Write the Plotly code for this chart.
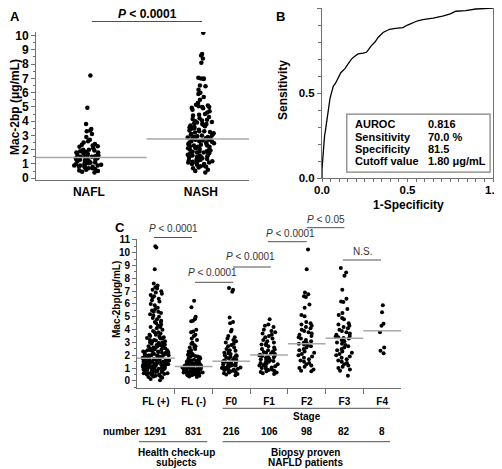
import plotly.graph_objects as go

# page body has an 8px margin: the figure is sized to fill the rest of the window
PAGE_W, PAGE_H, OFF = 502, 469, 8
W, H = PAGE_W - OFF, PAGE_H - OFF
FONT = "Liberation Sans, Arial, sans-serif"

# ---------------- Panel A data ----------------
a_groups = ["NAFL", "NASH"]
a_nafl = [7.2, 4.95, 3.8, 3.45, 3.35, 3.3, 3.1, 2.9, 2.7, 2.6, 2.5, 2.4, 2.35, 2.3, 2.25,
          2.2, 2.1, 2.0, 2.0, 1.95, 1.9, 1.85, 1.8, 1.8, 1.8, 1.75, 1.7, 1.7, 1.65, 1.6,
          1.6, 1.55, 1.5, 1.5, 1.5, 1.45, 1.4, 1.4, 1.35, 1.3, 1.3, 1.3, 1.25, 1.2, 1.2,
          1.15, 1.1, 1.1, 1.05, 1.0, 1.0, 1.0, 0.95, 0.9, 0.9, 0.9, 0.85, 0.8, 0.8, 0.75,
          0.7, 0.7, 0.65, 0.6, 0.55, 0.5, 0.45, 0.4]
a_nash = [10.2, 8.7, 8.6, 8.4, 8.1, 7.05, 7.0, 7.0, 6.95, 6.5, 6.45, 6.2, 6.0,
          5.9, 5.7, 5.5, 5.3, 5.15, 5.1, 5.05, 5.0, 5.0,
          4.95, 4.9, 4.8, 4.7, 4.6, 4.5, 4.45, 4.4, 4.3, 4.2, 4.15, 4.1, 4.05, 4.0,
          3.95, 3.9, 3.85, 3.8, 3.8, 3.75, 3.7, 3.65, 3.6, 3.55, 3.5, 3.5, 3.45, 3.4,
          3.35, 3.3, 3.3, 3.25, 3.2, 3.15, 3.1, 3.1, 3.05, 3.0, 3.0,
          2.95, 2.9, 2.9, 2.85, 2.8, 2.8, 2.75,
          2.7, 2.7, 2.65, 2.6, 2.6, 2.55, 2.5, 2.5, 2.45, 2.4, 2.4, 2.35, 2.3, 2.3,
          2.25, 2.2, 2.2, 2.15, 2.1, 2.1, 2.05, 2.0, 2.0,
          1.95, 1.9, 1.9, 1.85, 1.8, 1.8, 1.75, 1.7, 1.7, 1.65, 1.6, 1.6, 1.55, 1.5,
          1.5, 1.45, 1.4, 1.4, 1.35, 1.3, 1.3, 1.25, 1.2, 1.2, 1.15, 1.1, 1.1, 1.05,
          1.0, 1.0, 0.95, 0.9, 0.85, 0.8, 0.75, 0.7, 0.6, 0.5, 0.4]
a_medians = [1.45, 2.75]
a_pvalue = "<i>P</i> < 0.0001"

# ---------------- Panel B data ----------------
roc_fpr = [0.0, 0.0, 0.005, 0.01, 0.015, 0.02, 0.03, 0.037, 0.047, 0.055, 0.066, 0.08,
           0.095, 0.11, 0.134, 0.15, 0.172, 0.19, 0.211, 0.24, 0.26, 0.275, 0.289, 0.31,
           0.328, 0.357, 0.395, 0.43, 0.473, 0.5, 0.531, 0.56, 0.589, 0.65, 0.705, 0.75,
           0.783, 0.84, 0.899, 0.95, 1.0]
roc_tpr = [0.0, 0.05, 0.12, 0.2, 0.25, 0.28, 0.36, 0.41, 0.47, 0.5, 0.54, 0.56,
           0.586, 0.62, 0.644, 0.67, 0.70, 0.715, 0.73, 0.735, 0.74, 0.76, 0.779, 0.80,
           0.827, 0.856, 0.875, 0.88, 0.885, 0.9, 0.913, 0.925, 0.932, 0.94, 0.952, 0.965,
           0.981, 0.985, 0.994, 0.997, 1.0]
roc_stat_names = ["AUROC", "Sensitivity", "Specificity", "Cutoff value"]
roc_stat_values = ["0.816", "70.0 %", "81.5", "1.80 μg/mL"]

# ---------------- Panel C data ----------------
c_groups = ["FL (+)", "FL (-)", "F0", "F1", "F2", "F3", "F4"]
c_numbers = ["1291", "831", "216", "106", "98", "82", "8"]
c_fl_pos = [10.5, 10.4, 8.7, 7.6, 7.45, 7.3, 7.2, 7.1, 7.0, 6.9, 6.8, 6.7, 6.6, 6.5, 6.3,
            6.2, 6.0, 5.9, 5.7, 5.6, 5.5, 5.4, 5.3, 5.2, 5.1, 5.0, 4.9, 4.8, 4.7, 4.6, 4.5,
            4.4, 4.3, 4.2, 4.1, 4.0, 3.9, 3.8, 3.7, 3.6, 3.5, 3.5, 3.4, 3.35, 3.3, 3.2,
            3.15, 3.1, 3.0, 3.0, 2.9, 2.85, 2.8, 2.75, 2.7, 2.65, 2.6, 2.55, 2.5, 2.5,
            2.45, 2.4, 2.4, 2.35, 2.3, 2.3, 2.25, 2.2, 2.2, 2.15, 2.1, 2.1, 2.05, 2.0,
            2.0, 2.0, 1.95, 1.9, 1.9, 1.85, 1.8, 1.8, 1.8, 1.75, 1.7, 1.7, 1.7, 1.65,
            1.6, 1.6, 1.6, 1.55, 1.5, 1.5, 1.5, 1.45, 1.4, 1.4, 1.4, 1.35, 1.3, 1.3, 1.3,
            1.25, 1.2, 1.2, 1.2, 1.15, 1.1, 1.1, 1.1, 1.05, 1.0, 1.0, 1.0, 0.95, 0.9, 0.9,
            0.9, 0.85, 0.8, 0.8, 0.8, 0.75, 0.7, 0.7, 0.65, 0.6, 0.6, 0.55, 0.5, 0.5,
            0.45, 0.4, 0.35, 0.3, 0.25, 0.15, 0.05,
            2.9, 2.7, 2.5, 2.3, 2.1, 1.9, 1.7, 1.5, 1.3, 1.1, 0.9, 0.7, 2.8, 2.6, 2.4,
            2.2, 2.0, 1.8, 1.6, 1.4, 1.2, 1.0, 0.8, 0.6, 3.6, 3.4, 3.2, 3.8, 4.2, 4.6,
            5.4, 6.4, 1.55, 1.35, 1.15, 0.95, 0.75, 3.3, 3.1, 2.95, 2.65, 2.45, 2.25,
            2.05, 1.85, 1.65, 1.45, 1.25, 1.05, 0.85, 0.65, 0.55, 0.45, 0.35]
c_fl_neg = [6.25, 5.75, 5.0, 4.9, 4.8, 4.7, 4.65, 4.0, 3.85, 3.8, 3.6, 3.5, 3.3, 3.2,
            3.0, 2.9, 2.8, 2.7, 2.6, 2.5, 2.4, 2.3, 2.25, 2.2, 2.1, 2.05, 2.0, 1.95, 1.9,
            1.85, 1.8, 1.75, 1.7, 1.65, 1.6, 1.55, 1.5, 1.5, 1.45, 1.4, 1.4, 1.35, 1.3,
            1.3, 1.25, 1.2, 1.2, 1.15, 1.15, 1.1, 1.1, 1.1, 1.05, 1.05, 1.05, 1.0, 1.0,
            1.0, 1.0, 0.95, 0.95, 0.95, 0.9, 0.9, 0.9, 0.9, 0.85, 0.85, 0.85, 0.8, 0.8,
            0.8, 0.8, 0.75, 0.75, 0.75, 0.7, 0.7, 0.7, 0.65, 0.65, 0.65, 0.6, 0.6, 0.6,
            0.55, 0.55, 0.5, 0.5, 0.5, 0.45, 0.45, 0.4, 0.35, 0.3,
            2.6, 2.2, 1.9, 1.7, 1.6, 1.45, 1.35, 1.25, 1.15, 1.05, 0.95, 0.85]
c_f0 = [7.25, 7.1, 6.95, 4.95, 4.6, 4.5, 4.0, 3.85, 3.5, 3.4, 3.3, 3.2, 3.1, 3.0, 2.9,
        2.8, 2.7, 2.6, 2.5, 2.4, 2.35, 2.3, 2.2, 2.15, 2.1, 2.0, 2.0, 1.95, 1.9, 1.85,
        1.8, 1.75, 1.7, 1.65, 1.6, 1.55, 1.5, 1.5, 1.45, 1.4, 1.4, 1.35, 1.3, 1.3, 1.25,
        1.2, 1.2, 1.15, 1.1, 1.1, 1.05, 1.0, 1.0, 0.95, 0.9, 0.9, 0.85, 0.8, 0.8, 0.75,
        0.7, 0.65, 0.6, 0.55, 0.5, 0.45]
c_f1 = [4.8, 4.4, 4.3, 4.2, 4.0, 3.9, 3.8, 3.7, 3.6, 3.5, 3.4, 3.3, 3.2, 3.1, 3.0, 2.9,
        2.85, 2.8, 2.7, 2.6, 2.5, 2.45, 2.4, 2.3, 2.25, 2.2, 2.15, 2.1, 2.05, 2.0, 2.0,
        1.95, 1.9, 1.85, 1.8, 1.75, 1.7, 1.65, 1.6, 1.55, 1.5, 1.45, 1.4, 1.35, 1.3,
        1.25, 1.2, 1.15, 1.1, 1.05, 1.0, 0.95, 0.9, 0.85, 0.8, 0.75, 0.7, 0.65, 0.6, 0.55]
c_f2 = [10.25, 8.7, 6.9, 6.75, 6.6, 6.55, 5.95, 5.7, 5.15, 5.05, 4.6, 4.5, 4.4, 4.3,
        4.2, 4.1, 4.0, 3.9, 3.8, 3.7, 3.6, 3.5, 3.4, 3.3, 3.2, 3.1, 3.0, 2.95, 2.9,
        2.85, 2.8, 2.7, 2.6, 2.5, 2.4, 2.3, 2.2, 2.1, 2.0, 1.9, 1.8, 1.7, 1.6, 1.5,
        1.4, 1.3, 1.2, 1.1, 1.0, 0.9, 0.8, 0.75]
c_f3 = [8.8, 8.45, 8.2, 7.1, 6.4, 6.2, 6.15, 5.6, 5.3, 5.15, 4.9, 4.8, 4.5, 4.4, 4.3,
        4.2, 4.1, 4.0, 3.9, 3.8, 3.7, 3.6, 3.5, 3.45, 3.4, 3.35, 3.3, 3.2, 3.1, 3.0,
        2.9, 2.8, 2.7, 2.6, 2.5, 2.4, 2.3, 2.2, 2.1, 2.0, 1.9, 1.8, 1.7, 1.6, 1.5, 1.4,
        1.3, 1.2, 1.1, 1.0, 0.9, 0.8, 0.4]
c_f4 = [5.9, 5.35, 4.45, 4.3, 3.8, 2.6, 2.35, 2.15]
c_medians = [1.77, 1.12, 1.53, 2.03, 2.9, 3.33, 3.92]
c_comparisons = ["<i>P</i> < 0.0001", "<i>P</i> < 0.0001", "<i>P</i> < 0.0001",
                 "<i>P</i> < 0.0001", "<i>P</i> < 0.05", "N.S."]


# ---------------- helpers (window pixel -> paper fraction) ----------------
def px(x):
    return (x - OFF) / W


def py(y):
    return 1 - (y - OFF) / H


def dom(a, b):
    return [max(0.0, min(1.0, a)), max(0.0, min(1.0, b))]


BLACK = "#000000"
AXC = "#707070"
MEDC = "#a8a8a8"

fig = go.Figure()

# ---- Panel A ----
a_xr = [-0.473, 1.43]
a_widths = [0.27, 0.25]
for i, vals in enumerate([a_nafl, a_nash]):
    fig.add_trace(go.Box(
        x=[i] * len(vals), y=vals, xaxis="x", yaxis="y",
        boxpoints="all", jitter=1, pointpos=0, width=a_widths[i],
        fillcolor="rgba(0,0,0,0)", line=dict(width=0, color="rgba(0,0,0,0)"),
        marker=dict(color=BLACK, size=4.5, line=dict(width=0)),
        showlegend=False, hoverinfo="y"))
a_bounds = [a_xr[0], 0.515, a_xr[1]]
for i, m in enumerate(a_medians):
    fig.add_trace(go.Scatter(x=[a_bounds[i], a_bounds[i + 1]], y=[m, m], mode="lines",
                             xaxis="x", yaxis="y", line=dict(color=MEDC, width=1.5),
                             showlegend=False, hoverinfo="skip"))

# ---- Panel B ----
fig.add_trace(go.Scatter(x=roc_fpr, y=roc_tpr, xaxis="x2", yaxis="y2", mode="lines",
                         line=dict(color=BLACK, width=1.3), showlegend=False))

# ---- Panel C ----
c_sets = [c_fl_pos, c_fl_neg, c_f0, c_f1, c_f2, c_f3, c_f4]
c_widths = [0.7, 0.6, 0.55, 0.55, 0.5, 0.5, 0.15]
for i, vals in enumerate(c_sets):
    fig.add_trace(go.Box(
        x=[i] * len(vals), y=vals, xaxis="x3", yaxis="y3",
        boxpoints="all", jitter=1, pointpos=0, width=c_widths[i],
        fillcolor="rgba(0,0,0,0)", line=dict(width=0, color="rgba(0,0,0,0)"),
        marker=dict(color=BLACK, size=4, line=dict(width=0)),
        showlegend=False, hoverinfo="y"))
for i, m in enumerate(c_medians):
    fig.add_trace(go.Scatter(x=[i - 0.5, i + 0.5], y=[m, m], mode="lines",
                             xaxis="x3", yaxis="y3", line=dict(color=MEDC, width=1.5),
                             showlegend=False, hoverinfo="skip"))

bold12 = dict(family=FONT, size=12, color=BLACK, weight="bold")
boldB = dict(family=FONT, size=11.5, color=BLACK, weight="bold")
bold10 = dict(family=FONT, size=10, color=BLACK, weight="bold")

common = dict(showgrid=False, zeroline=False, automargin=False, showline=True,
              linecolor=AXC, linewidth=1)

fig.update_layout(
    template="none",
    width=W, height=H, autosize=False,
    margin=dict(l=0, r=0, t=0, b=0, pad=0),
    paper_bgcolor="white", plot_bgcolor="white",
    font=dict(family=FONT, color=BLACK),
    boxmode="overlay",
    xaxis=dict(domain=dom(px(36), px(249)), range=a_xr, anchor="y",
               tickvals=[0, 1], ticktext=a_groups, ticks="", tickfont=bold12, **common),
    yaxis=dict(domain=dom(py(180.4), py(32)), range=[-0.15, 10.25], anchor="x",
               tick0=0, dtick=1, ticks="outside", ticklen=4, tickcolor=AXC, tickwidth=1,
               minor=dict(ticks="outside", dtick=0.5, tick0=0, ticklen=2, tickcolor=AXC),
               tickfont=bold12, **common),
    xaxis2=dict(domain=dom(px(322), px(493)), range=[0, 1], anchor="y2",
                tickvals=[0, 0.5, 1], ticktext=["0.0", "0.5", "1.0"],
                ticks="outside", ticklen=3, tickcolor=AXC, ticklabelstandoff=-2,
                minor=dict(ticks="outside", dtick=0.05, tick0=0, ticklen=3, tickcolor=AXC),
                tickfont=boldB, mirror=True, **common),
    yaxis2=dict(domain=dom(py(178.3), py(6)), range=[0, 1], anchor="x2",
                tickvals=[0, 0.5, 1], ticktext=["0.0", "0.5", "1.0"],
                ticks="outside", ticklen=4, tickcolor=AXC,
                minor=dict(ticks="outside", dtick=0.1, tick0=0, ticklen=3, tickcolor=AXC),
                tickfont=boldB, mirror=True, **common),
    xaxis3=dict(domain=dom(px(137), px(401)), range=[-0.5, 6.5], anchor="y3",
                tickvals=list(range(7)), ticktext=c_groups, ticks="outside", ticklen=0,
                ticklabelstandoff=4,
                minor=dict(ticks="outside", tickvals=[0.5, 1.5, 2.5, 3.5, 4.5, 5.5],
                           ticklen=5, tickcolor=AXC),
                tickfont=bold10, **common),
    yaxis3=dict(domain=dom(py(388), py(239.2)), range=[-0.55, 11.05], anchor="x3",
                tick0=0, dtick=1, ticks="outside", ticklen=4, tickcolor=AXC,
                minor=dict(ticks="outside", dtick=0.5, tick0=0, ticklen=2, tickcolor=AXC),
                tickfont=bold10, **common),
)

shapes = []
ann = []


def line_x(xref, x0, x1, ypx, color="#505050"):
    shapes.append(dict(type="line", xref=xref, yref="paper", x0=x0, x1=x1,
                       y0=py(ypx), y1=py(ypx), line=dict(color=color, width=1)))


def text(x, y, s, font, xref="paper", yref="paper", xanchor="center", yanchor="middle",
         angle=0):
    ann.append(dict(x=x, y=y, xref=xref, yref=yref, text=s, showarrow=False,
                    font=font, xanchor=xanchor, yanchor=yanchor, textangle=angle))


# Panel A extras
line_x("x", 0.027, 1.01, 21.5)
text(0.527, py(14.5), a_pvalue, dict(family=FONT, size=12, color=BLACK, weight="bold"),
     xref="x")
text(px(15), py(16.5), "A", dict(family=FONT, size=13, color=BLACK, weight="bold"))
text(px(15), py(107), "Mac-2bp (μg/mL)", bold12, angle=-90)

# Panel B extras
text(px(280), py(16), "B", dict(family=FONT, size=13, color=BLACK, weight="bold"))
text(px(283), py(90), "Sensitivity", bold12, angle=-90)
text(px(408), py(205), "1-Specificity", bold12)
shapes.append(dict(type="rect", xref="x2 domain", yref="y2 domain", x0=0.145, x1=0.983,
                   y0=0.036, y1=0.377, line=dict(color="#808080", width=1.2)))
row_y = [0.317, 0.244, 0.171, 0.100]
for k in range(4):
    text(0.18, row_y[k], roc_stat_names[k], dict(family=FONT, size=11, color=BLACK, weight="bold"),
         xref="x2 domain", yref="y2 domain", xanchor="left")
    text(0.61, row_y[k], roc_stat_values[k], dict(family=FONT, size=11, color=BLACK, weight="bold"),
         xref="x2 domain", yref="y2 domain", xanchor="left")

# Panel C extras
text(px(120), py(227), "C", dict(family=FONT, size=13, color=BLACK, weight="bold"))
text(px(116), py(300), "Mac-2bp(μg/mL)", bold10, angle=-90)
sig_x = [(-0.05, 0.958), (1.04, 2.05), (2.05, 3.05), (2.97, 4.0), (4.0, 5.0), (4.96, 5.97)]
sig_line_y = [237.5, 282.3, 267, 241.7, 227.7, 260]
sig_text_y = [228.5, 272.5, 257, 233.5, 219, 251.5]
sig_text_x = [0.468, 1.515, 2.52, 3.56, 4.51, 5.49]
pfont = dict(family=FONT, size=10, color="#333333")
for k in range(6):
    line_x("x3", sig_x[k][0], sig_x[k][1], sig_line_y[k])
    text(sig_text_x[k], py(sig_text_y[k]), c_comparisons[k], pfont, xref="x3")

line_x("x3", 1.77, 6.21, 408.3)
text(4, py(416), "Stage", bold10, xref="x3")
text(px(121), py(431), "number", bold10)
for i, n in enumerate(c_numbers):
    text(i, py(431), n, bold10, xref="x3")
line_x("x3", -0.447, 1.364, 441.7)
line_x("x3", 1.77, 6.21, 441.7)
text(0.534, py(452), "Health check-up", bold10, xref="x3")
text(0.534, py(462.5), "subjects", bold10, xref="x3")
text(3.98, py(452), "Biopsy proven", bold10, xref="x3")
text(3.98, py(462.5), "NAFLD patients", bold10, xref="x3")

fig.update_layout(shapes=shapes, annotations=ann)
fig.write_html("out.html")
